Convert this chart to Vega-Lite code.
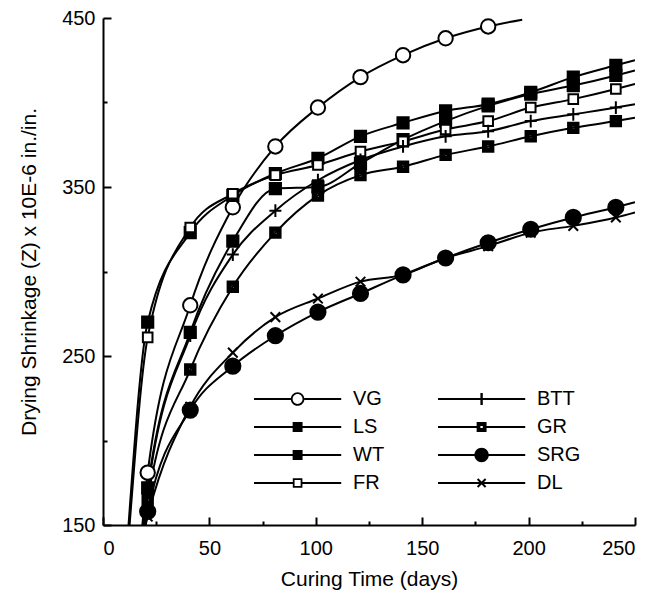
{
  "$schema": "https://vega.github.io/schema/vega-lite/v6.json",
  "width": 532,
  "height": 507,
  "autosize": "none",
  "padding": {"left": 103, "top": 18, "right": 20, "bottom": 73},
  "background": "white",
  "config": {
    "view": {"stroke": null},
    "font": "Liberation Sans",
    "axis": {
      "domainColor": "black", "domainWidth": 2, "ticks": false,
      "labelColor": "black", "labelFont": "Liberation Sans", "labelFontSize": 20,
      "titleColor": "black", "titleFont": "Liberation Sans", "titleFontSize": 21, "titleFontWeight": "normal",
      "grid": true, "gridColor": "black", "gridWidth": 2, "gridOpacity": 1
    },
    "legend": {"labelFont": "Liberation Sans", "labelFontSize": 20, "labelColor": "black"}
  },
  "data": {"values": [
    {"mix": "VG", "day": 18.5, "z": 150, "kind": "curve end"},
    {"mix": "VG", "day": 21, "z": 181, "kind": "measured"},
    {"mix": "VG", "day": 41, "z": 280, "kind": "measured"},
    {"mix": "VG", "day": 61, "z": 338, "kind": "measured"},
    {"mix": "VG", "day": 81, "z": 374, "kind": "measured"},
    {"mix": "VG", "day": 101, "z": 397, "kind": "measured"},
    {"mix": "VG", "day": 121, "z": 415, "kind": "measured"},
    {"mix": "VG", "day": 141, "z": 428, "kind": "measured"},
    {"mix": "VG", "day": 161, "z": 438, "kind": "measured"},
    {"mix": "VG", "day": 181, "z": 445, "kind": "measured"},
    {"mix": "VG", "day": 197, "z": 449, "kind": "curve end"},

    {"mix": "LS", "day": 12, "z": 150, "kind": "curve end"},
    {"mix": "LS", "day": 21, "z": 270, "kind": "measured"},
    {"mix": "LS", "day": 41, "z": 323, "kind": "measured"},
    {"mix": "LS", "day": 61, "z": 345, "kind": "measured"},
    {"mix": "LS", "day": 81, "z": 358, "kind": "measured"},
    {"mix": "LS", "day": 101, "z": 367, "kind": "measured"},
    {"mix": "LS", "day": 121, "z": 380, "kind": "measured"},
    {"mix": "LS", "day": 141, "z": 388, "kind": "measured"},
    {"mix": "LS", "day": 161, "z": 395, "kind": "measured"},
    {"mix": "LS", "day": 181, "z": 399, "kind": "measured"},
    {"mix": "LS", "day": 201, "z": 406, "kind": "measured"},
    {"mix": "LS", "day": 221, "z": 415, "kind": "measured"},
    {"mix": "LS", "day": 241, "z": 422, "kind": "measured"},
    {"mix": "LS", "day": 250, "z": 425, "kind": "curve end"},

    {"mix": "WT", "day": 19, "z": 150, "kind": "curve end"},
    {"mix": "WT", "day": 21, "z": 172, "kind": "measured"},
    {"mix": "WT", "day": 41, "z": 264, "kind": "measured"},
    {"mix": "WT", "day": 61, "z": 318, "kind": "measured"},
    {"mix": "WT", "day": 81, "z": 349, "kind": "measured"},
    {"mix": "WT", "day": 101, "z": 350, "kind": "measured"},
    {"mix": "WT", "day": 121, "z": 364, "kind": "measured"},
    {"mix": "WT", "day": 141, "z": 378, "kind": "measured"},
    {"mix": "WT", "day": 161, "z": 389, "kind": "measured"},
    {"mix": "WT", "day": 181, "z": 398, "kind": "measured"},
    {"mix": "WT", "day": 201, "z": 405, "kind": "measured"},
    {"mix": "WT", "day": 221, "z": 410, "kind": "measured"},
    {"mix": "WT", "day": 241, "z": 416, "kind": "measured"},
    {"mix": "WT", "day": 250, "z": 419, "kind": "curve end"},

    {"mix": "FR", "day": 12.5, "z": 150, "kind": "curve end"},
    {"mix": "FR", "day": 21, "z": 261, "kind": "measured"},
    {"mix": "FR", "day": 41, "z": 326, "kind": "measured"},
    {"mix": "FR", "day": 61, "z": 346, "kind": "measured"},
    {"mix": "FR", "day": 81, "z": 357, "kind": "measured"},
    {"mix": "FR", "day": 101, "z": 363, "kind": "measured"},
    {"mix": "FR", "day": 121, "z": 371, "kind": "measured"},
    {"mix": "FR", "day": 141, "z": 377, "kind": "measured"},
    {"mix": "FR", "day": 161, "z": 384, "kind": "measured"},
    {"mix": "FR", "day": 181, "z": 389, "kind": "measured"},
    {"mix": "FR", "day": 201, "z": 397, "kind": "measured"},
    {"mix": "FR", "day": 221, "z": 402, "kind": "measured"},
    {"mix": "FR", "day": 241, "z": 408, "kind": "measured"},
    {"mix": "FR", "day": 250, "z": 411, "kind": "curve end"},

    {"mix": "BTT", "day": 19, "z": 150, "kind": "curve end"},
    {"mix": "BTT", "day": 21, "z": 170, "kind": "measured"},
    {"mix": "BTT", "day": 41, "z": 262, "kind": "measured"},
    {"mix": "BTT", "day": 61, "z": 310, "kind": "measured"},
    {"mix": "BTT", "day": 81, "z": 336, "kind": "measured"},
    {"mix": "BTT", "day": 101, "z": 354, "kind": "measured"},
    {"mix": "BTT", "day": 121, "z": 366, "kind": "measured"},
    {"mix": "BTT", "day": 141, "z": 374, "kind": "measured"},
    {"mix": "BTT", "day": 161, "z": 380, "kind": "measured"},
    {"mix": "BTT", "day": 181, "z": 383, "kind": "measured"},
    {"mix": "BTT", "day": 201, "z": 389, "kind": "measured"},
    {"mix": "BTT", "day": 221, "z": 393, "kind": "measured"},
    {"mix": "BTT", "day": 241, "z": 397, "kind": "measured"},
    {"mix": "BTT", "day": 250, "z": 399, "kind": "curve end"},

    {"mix": "GR", "day": 19.5, "z": 150, "kind": "curve end"},
    {"mix": "GR", "day": 21, "z": 165, "kind": "measured"},
    {"mix": "GR", "day": 41, "z": 242, "kind": "measured"},
    {"mix": "GR", "day": 61, "z": 291, "kind": "measured"},
    {"mix": "GR", "day": 81, "z": 323, "kind": "measured"},
    {"mix": "GR", "day": 101, "z": 345, "kind": "measured"},
    {"mix": "GR", "day": 121, "z": 357, "kind": "measured"},
    {"mix": "GR", "day": 141, "z": 362, "kind": "measured"},
    {"mix": "GR", "day": 161, "z": 369, "kind": "measured"},
    {"mix": "GR", "day": 181, "z": 374, "kind": "measured"},
    {"mix": "GR", "day": 201, "z": 380, "kind": "measured"},
    {"mix": "GR", "day": 221, "z": 385, "kind": "measured"},
    {"mix": "GR", "day": 241, "z": 389, "kind": "measured"},
    {"mix": "GR", "day": 250, "z": 391, "kind": "curve end"},

    {"mix": "SRG", "day": 20, "z": 150, "kind": "curve end"},
    {"mix": "SRG", "day": 21, "z": 158, "kind": "measured"},
    {"mix": "SRG", "day": 41, "z": 218, "kind": "measured"},
    {"mix": "SRG", "day": 61, "z": 244, "kind": "measured"},
    {"mix": "SRG", "day": 81, "z": 262, "kind": "measured"},
    {"mix": "SRG", "day": 101, "z": 276, "kind": "measured"},
    {"mix": "SRG", "day": 121, "z": 287, "kind": "measured"},
    {"mix": "SRG", "day": 141, "z": 298, "kind": "measured"},
    {"mix": "SRG", "day": 161, "z": 308, "kind": "measured"},
    {"mix": "SRG", "day": 181, "z": 317, "kind": "measured"},
    {"mix": "SRG", "day": 201, "z": 325, "kind": "measured"},
    {"mix": "SRG", "day": 221, "z": 332, "kind": "measured"},
    {"mix": "SRG", "day": 241, "z": 338, "kind": "measured"},
    {"mix": "SRG", "day": 250, "z": 341, "kind": "curve end"},

    {"mix": "DL", "day": 20, "z": 150, "kind": "curve end"},
    {"mix": "DL", "day": 21, "z": 155, "kind": "measured"},
    {"mix": "DL", "day": 41, "z": 220, "kind": "measured"},
    {"mix": "DL", "day": 61, "z": 252, "kind": "measured"},
    {"mix": "DL", "day": 81, "z": 273, "kind": "measured"},
    {"mix": "DL", "day": 101, "z": 284, "kind": "measured"},
    {"mix": "DL", "day": 121, "z": 294, "kind": "measured"},
    {"mix": "DL", "day": 141, "z": 298, "kind": "measured"},
    {"mix": "DL", "day": 161, "z": 308, "kind": "measured"},
    {"mix": "DL", "day": 181, "z": 315, "kind": "measured"},
    {"mix": "DL", "day": 201, "z": 323, "kind": "measured"},
    {"mix": "DL", "day": 221, "z": 327, "kind": "measured"},
    {"mix": "DL", "day": 241, "z": 332, "kind": "measured"},
    {"mix": "DL", "day": 250, "z": 335, "kind": "curve end"}
  ]},
  "encoding": {
    "x": {
      "field": "day", "type": "quantitative",
      "scale": {"domain": [0, 250], "nice": false, "zero": false},
      "axis": {
        "title": "Curing Time (days)",
        "values": [0, 25, 50, 75, 100, 125, 150, 175, 200, 225, 250],
        "labelExpr": "datum.value % 50 === 0 ? datum.label : ''",
        "ticks": false,
        "grid": true,
        "gridDash": {"condition": {"test": "datum.value % 50 !== 0", "value": [0, 503, 4, 2000]}, "value": [0, 499, 8, 2000]},
        "labelPadding": 13,
        "titlePadding": 10
      }
    },
    "y": {
      "field": "z", "type": "quantitative",
      "scale": {"domain": [150, 450], "nice": false, "zero": false},
      "axis": {
        "title": "Drying Shrinkage (Z) x 10E-6 in./in.",
        "values": [150, 200, 250, 300, 350, 400, 450],
        "labelExpr": "(datum.value - 150) % 100 === 0 ? datum.label : ''",
        "ticks": false,
        "grid": true,
        "gridDash": {"condition": {"test": "(datum.value - 150) % 100 !== 0", "value": [4, 2000]}, "value": [8, 2000]},
        "labelPadding": 8,
        "titlePadding": 22
      }
    }
  },
  "layer": [
    {
      "mark": {"type": "line", "color": "black", "strokeWidth": 2, "interpolate": "monotone", "clip": true},
      "encoding": {"detail": {"field": "mix"}}
    },
    {
      "transform": [{"filter": "datum.kind === 'measured'"}],
      "mark": {"type": "point", "filled": true, "stroke": "black", "strokeWidth": 2, "size": 256, "opacity": 1, "clip": true},
      "encoding": {
        "shape": {
          "field": "mix", "type": "nominal", "legend": null,
          "scale": {
            "domain": ["VG", "LS", "WT", "FR", "BTT", "GR", "SRG", "DL"],
            "range": [
              "M0.9,0 A0.9,0.9 0 1,1 -0.9,0 A0.9,0.9 0 1,1 0.9,0 Z",
              "M-0.7,-0.7 H0.7 V0.7 H-0.7 Z",
              "M-0.7,-0.7 H0.7 V0.7 H-0.7 Z",
              "M-0.6,-0.6 H0.6 V0.6 H-0.6 Z",
              "M-0.75,0 H0.75 M0,-0.8 V0.8",
              "M-0.65,-0.65 H0.65 V0.65 H-0.65 Z M-0.25,-0.25 V0.25 H0.25 V-0.25 Z",
              "M0.95,0 A0.95,0.95 0 1,1 -0.95,0 A0.95,0.95 0 1,1 0.95,0 Z",
              "M-0.6,-0.6 L0.6,0.6 M-0.6,0.6 L0.6,-0.6"
            ]
          }
        },
        "fill": {
          "field": "mix", "type": "nominal", "legend": null,
          "scale": {
            "domain": ["VG", "LS", "WT", "FR", "BTT", "GR", "SRG", "DL"],
            "range": ["white", "black", "black", "white", "black", "black", "black", "black"]
          }
        }
      }
    },
    {
      "transform": [{"filter": "datum.day < 0"}],
      "mark": {"type": "point", "filled": true, "color": "black", "size": 256, "opacity": 1},
      "encoding": {
        "shape": {
          "field": "mix", "type": "nominal",
          "scale": {
            "domain": ["VG", "LS", "WT", "FR", "BTT", "GR", "SRG", "DL"],
            "range": [
              "M-1,-0.14 H3.6 V0.14 H-1 Z M5.3,-0.14 H9.9 V0.14 H5.3 Z M5.3,0 A0.85,0.85 0 1,1 3.6,0 A0.85,0.85 0 1,1 5.3,0 Z M5.07,0 A0.62,0.62 0 1,0 3.83,0 A0.62,0.62 0 1,0 5.07,0 Z",
              "M-1,-0.14 H9.9 V0.14 H-1 Z M3.83,-0.62 H5.07 V0.62 H3.83 Z",
              "M-1,-0.14 H9.9 V0.14 H-1 Z M3.83,-0.62 H5.07 V0.62 H3.83 Z",
              "M-1,-0.14 H3.85 V0.14 H-1 Z M5.05,-0.14 H9.9 V0.14 H5.05 Z M3.85,-0.6 H5.05 V0.6 H3.85 Z M4.07,-0.38 V0.38 H4.83 V-0.38 Z",
              "M-1,-0.14 H9.9 V0.14 H-1 Z M4.3,-0.75 H4.6 V0.75 H4.3 Z",
              "M-1,-0.14 H9.9 V0.14 H-1 Z M3.83,-0.62 H5.07 V0.62 H3.83 Z M4.3,-0.16 V0.16 H4.6 V-0.16 Z M4.3,-0.16 V0.16 H4.6 V-0.16 Z",
              "M-1,-0.14 H9.9 V0.14 H-1 Z M5.35,0 A0.9,0.9 0 1,1 3.55,0 A0.9,0.9 0 1,1 5.35,0 Z",
              "M-1,-0.14 H9.9 V0.14 H-1 Z M4.035,-0.585 L5.035,0.415 L4.865,0.585 L3.865,-0.415 Z M3.865,0.415 L4.865,-0.585 L5.035,-0.415 L4.035,0.585 Z"
            ]
          },
          "legend": {
            "title": null, "orient": "none", "legendX": 149, "legendY": 371,
            "columns": 2, "direction": "vertical", "columnPadding": 51, "rowPadding": 8,
            "symbolSize": 256, "symbolFillColor": "black", "symbolStrokeWidth": 0, "symbolOpacity": 1,
            "labelOffset": 81, "labelFontSize": 20, "labelFont": "Liberation Sans", "labelColor": "black"
          }
        }
      }
    }
  ],
  "resolve": {
    "scale": {"shape": "independent", "fill": "independent"},
    "legend": {"shape": "independent", "fill": "independent"}
  }
}
